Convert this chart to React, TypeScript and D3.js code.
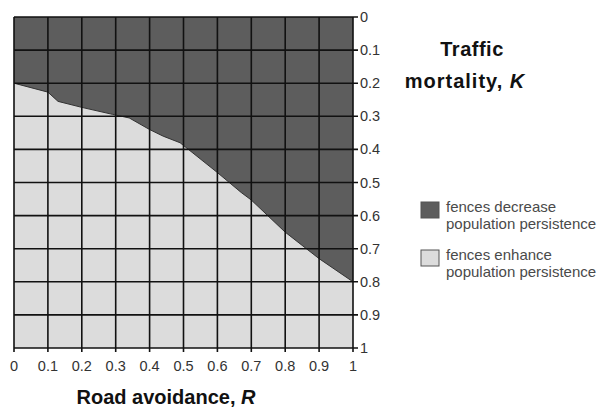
import React from "react";
import * as d3 from "d3";

const boundaryR = [0, 0.1, 0.13, 0.2, 0.29, 0.34, 0.4, 0.44, 0.49, 0.6, 0.67, 0.7, 0.8, 0.9, 1];
const boundaryK = [0.2, 0.227, 0.255, 0.273, 0.294, 0.305, 0.34, 0.36, 0.38, 0.47, 0.53, 0.553, 0.65, 0.73, 0.8];
const ticks = [0, 0.1, 0.2, 0.3, 0.4, 0.5, 0.6, 0.7, 0.8, 0.9, 1];
const tickLabels = ["0", "0.1", "0.2", "0.3", "0.4", "0.5", "0.6", "0.7", "0.8", "0.9", "1"];
const legendLabels = [
  ["fences decrease", "population persistence"],
  ["fences enhance", "population persistence"],
];

const DARK = "#5d5d5d";
const LIGHT = "#dcdcdc";
const FONT = "'Liberation Sans', Arial, sans-serif";

export default function App() {
  const x = d3.scaleLinear().domain([0, 1]).range([14, 353]);
  const y = d3.scaleLinear().domain([0, 1]).range([17, 348]);
  const pts = boundaryR.map((r, i) => [r, boundaryK[i]] as [number, number]);
  const area = d3
    .area<[number, number]>()
    .x((d) => x(d[0]))
    .y0(() => y(0))
    .y1((d) => y(d[1]));
  const line = d3
    .line<[number, number]>()
    .x((d) => x(d[0]))
    .y((d) => y(d[1]));
  const [x0, x1] = x.range();
  const [y0, y1] = y.range();
  const legendColors = [DARK, LIGHT];

  return (
    <svg
      width={604}
      height={407}
      style={{ position: "absolute", left: 0, top: 0, background: "#fff" }}
    >
      <rect x={x0} y={y0} width={x1 - x0} height={y1 - y0} fill={LIGHT} />
      <path d={area(pts) || ""} fill={DARK} />
      <path d={line(pts) || ""} fill="none" stroke="#333" strokeWidth={1} />
      {ticks.map((t, i) => (
        <g key={"g" + i}>
          <line x1={x(t)} x2={x(t)} y1={y0} y2={y1 + 4} stroke="#111" strokeWidth={1.6} />
          <line x1={x0} x2={x1 + 5} y1={y(t)} y2={y(t)} stroke="#111" strokeWidth={1.6} />
        </g>
      ))}
      {ticks.map((t, i) => (
        <text
          key={"xl" + i}
          x={x(t)}
          y={371}
          textAnchor="middle"
          fontFamily={FONT}
          fontSize={14.5}
          fill="#333"
        >
          {tickLabels[i]}
        </text>
      ))}
      {ticks.map((t, i) => (
        <text
          key={"yl" + i}
          x={360}
          y={y(t) + 5}
          textAnchor="start"
          fontFamily={FONT}
          fontSize={14.5}
          fill="#333"
        >
          {tickLabels[i]}
        </text>
      ))}
      <text x={166} y={404} textAnchor="middle" fontFamily={FONT} fontSize={20} fontWeight="bold" fill="#111">
        Road avoidance, <tspan fontStyle="italic">R</tspan>
      </text>
      <text x={472} y={56} textAnchor="middle" fontFamily={FONT} fontSize={20} fontWeight="bold" fill="#111" letterSpacing={0.5}>
        Traffic
      </text>
      <text x={465} y={88} textAnchor="middle" fontFamily={FONT} fontSize={20} fontWeight="bold" fill="#111" letterSpacing={1}>
        mortality, <tspan fontStyle="italic">K</tspan>
      </text>
      {legendLabels.map((lab, i) => (
        <g key={"lg" + i} transform={`translate(0, ${i * 48})`}>
          <rect x={421} y={202} width={18} height={16} fill={legendColors[i]} stroke="#555" strokeWidth={1} />
          <text x={446} y={212} fontFamily={FONT} fontSize={15} fill="#4a4a4a">
            {lab[0]}
          </text>
          <text x={446} y={229} fontFamily={FONT} fontSize={15} fill="#4a4a4a">
            {lab[1]}
          </text>
        </g>
      ))}
    </svg>
  );
}
